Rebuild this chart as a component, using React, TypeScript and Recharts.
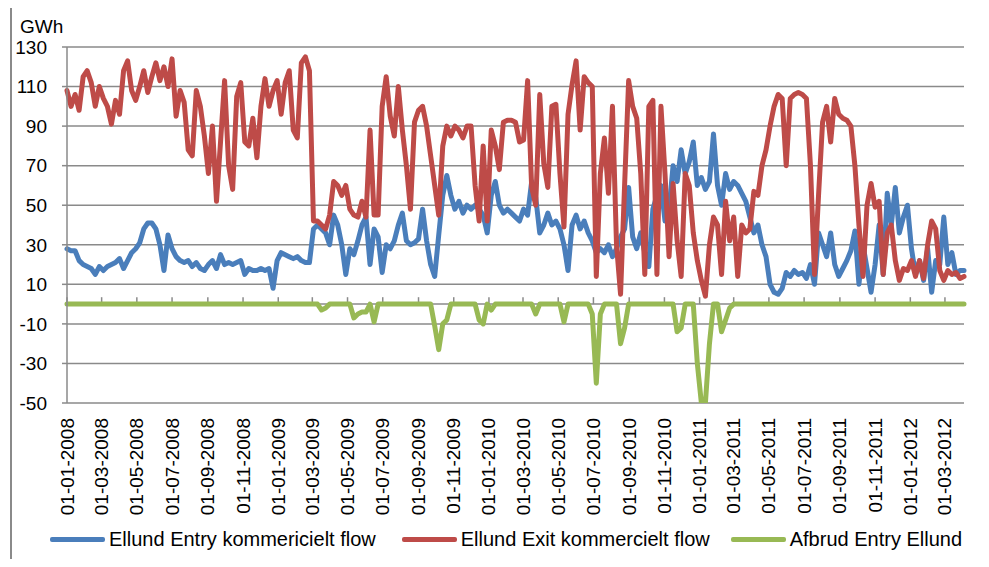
import { CartesianGrid, Legend, Line, LineChart, ReferenceLine, XAxis, YAxis } from "recharts";

// x-axis labels, one every second month
const tickLabels = [
	"01-01-2008", "01-03-2008", "01-05-2008", "01-07-2008", "01-09-2008", "01-11-2008",
	"01-01-2009", "01-03-2009", "01-05-2009", "01-07-2009", "01-09-2009", "01-11-2009",
	"01-01-2010", "01-03-2010", "01-05-2010", "01-07-2010", "01-09-2010", "01-11-2010",
	"01-01-2011", "01-03-2011", "01-05-2011", "01-07-2011", "01-09-2011", "01-11-2011",
	"01-01-2012", "01-03-2012",
];

const yTicks = [-50, -30, -10, 10, 30, 50, 70, 90, 110, 130];

// weekly readings, first week starts 01-01-2008
const firstDay = "2008-01-01";
const stepDays = 7;

const entryFlow = [
	28, 27, 27, 22, 20, 19, 18, 15, 19, 17,
	19, 20, 21, 23, 18, 22, 26, 28, 31, 38,
	41, 41, 38, 30, 17, 35, 28, 24, 22, 21,
	22, 19, 21, 18, 17, 20, 22, 18, 25, 20,
	21, 20, 21, 22, 15, 18, 17, 17, 18, 17,
	18, 8, 22, 26, 25, 24, 23, 24, 22, 21,
	21, 38, 40, 38, 36, 30, 45, 40, 30, 15,
	28, 25, 32, 40, 44, 20, 38, 34, 16, 30,
	28, 32, 40, 46, 32, 30, 31, 33, 48, 32,
	20, 14, 35, 55, 65, 55, 48, 52, 46, 50,
	48, 50, 48, 45, 36, 55, 62, 50, 46, 48,
	46, 44, 42, 48, 45, 62, 54, 36, 40, 46,
	40, 42, 38, 30, 17, 40, 45, 38, 42, 36,
	32, 26, 28, 26, 30, 24, 28, 34, 38, 59,
	34, 28, 36, 26, 19, 48, 55, 60, 42, 48,
	70, 62, 78, 66, 72, 82, 60, 64, 58, 62,
	86, 60, 50, 66, 58, 62, 60, 56, 52, 44,
	36, 40, 30, 24, 10, 6, 5, 8, 16, 14,
	17, 15, 16, 13, 20, 10, 36, 30, 24, 36,
	20, 14, 18, 22, 27, 37, 10, 30, 18, 6,
	20, 40, 15, 56, 40, 59, 36, 44, 50, 28,
	15, 22, 12, 28, 6, 22, 20, 44, 20, 26,
	15, 17, 17,
];

const exitFlow = [
	108, 100, 106, 98, 115, 118, 112, 100, 110, 104,
	100, 91, 103, 96, 118, 123, 108, 103, 110, 118,
	107, 115, 122, 113, 120, 110, 124, 95, 108, 102,
	78, 75, 108, 100, 85, 66, 90, 52, 82, 113,
	70, 58, 105, 112, 82, 80, 94, 74, 100, 114,
	100, 108, 113, 96, 112, 118, 88, 84, 122, 125,
	118, 42, 42, 40, 38, 45, 62, 60, 55, 60,
	48, 45, 44, 52, 44, 88, 45, 45, 100, 115,
	95, 85, 110, 88, 70, 48, 92, 98, 100, 90,
	75, 60, 45, 80, 90, 85, 90, 88, 84, 90,
	90, 60, 42, 80, 42, 88, 80, 68, 92, 93,
	93, 92, 82, 83, 113, 59, 50, 106, 71, 59,
	100, 101, 66, 39, 96, 111, 123, 88, 115, 112,
	110, 14, 66, 84, 56, 100, 30, 5, 60, 113,
	100, 94, 66, 15, 100, 103, 15, 100, 66, 24,
	61, 32, 14, 66, 60, 36, 22, 12, 4, 30,
	44, 40, 15, 52, 32, 44, 14, 40, 36, 38,
	57, 55, 70, 78, 90, 100, 106, 104, 70, 104,
	106, 107, 106, 104, 70, 15, 55, 92, 100, 82,
	104, 96, 94, 93, 90, 70, 40, 14, 50, 61,
	49, 52, 15, 36, 40, 22, 12, 18, 17, 22,
	14, 22, 13, 30, 42, 38, 17, 12, 17, 15,
	16, 13, 14,
];

const afbrudEntry = [
	0, 0, 0, 0, 0, 0, 0, 0, 0, 0,
	0, 0, 0, 0, 0, 0, 0, 0, 0, 0,
	0, 0, 0, 0, 0, 0, 0, 0, 0, 0,
	0, 0, 0, 0, 0, 0, 0, 0, 0, 0,
	0, 0, 0, 0, 0, 0, 0, 0, 0, 0,
	0, 0, 0, 0, 0, 0, 0, 0, 0, 0,
	0, 0, 0, -3, -2, 0, 0, 0, 0, 0,
	0, -7, -5, -4, -4, 0, -9, 0, 0, 0,
	0, 0, 0, 0, 0, 0, 0, 0, 0, 0,
	0, -11, -23, -10, -8, 0, 0, 0, 0, 0,
	0, 0, -8, -10, 0, -3, 0, 0, 0, 0,
	0, 0, 0, 0, 0, 0, -5, 0, 0, 0,
	0, 0, 0, -9, 0, 0, 0, 0, 0, 0,
	-5, -40, -5, 0, 0, 0, 0, -20, -12, 0,
	0, 0, 0, 0, 0, 0, 0, 0, 0, 0,
	0, -14, -12, 0, 0, 0, -30, -50, -50, -20,
	0, 0, -14, -8, -2, 0, 0, 0, 0, 0,
	0, 0, 0, 0, 0, 0, 0, 0, 0, 0,
	0, 0, 0, 0, 0, 0, 0, 0, 0, 0,
	0, 0, 0, 0, 0, 0, 0, 0, 0, 0,
	0, 0, 0, 0, 0, 0, 0, 0, 0, 0,
	0, 0, 0, 0, 0, 0, 0, 0, 0, 0,
	0, 0, 0,
];

const BLUE = "#4a7ebb";
const RED = "#be4b48";
const GREEN = "#98b954";
const GRID = "#8a8a8a";
const FONT = "'Liberation Sans', Arial, sans-serif";

const DAY = 86400000;
const startTime = Date.parse(firstDay);

const toTime = (label: string) => {
	const [d, m, y] = label.split("-").map(Number);
	return Date.UTC(y, m - 1, d);
};
const tickTimes = tickLabels.map(toTime);
const labelByTime = new Map(tickTimes.map((t, i) => [t, tickLabels[i]]));

const data = entryFlow.map((v, i) => ({
	t: startTime + i * stepDays * DAY,
	entry: v,
	exit: exitFlow[i],
	afbrud: afbrudEntry[i],
}));

const series = [
	{ key: "entry", name: "Ellund Entry kommericielt flow", color: BLUE, gap: 0 },
	{ key: "exit", name: "Ellund Exit kommercielt flow", color: RED, gap: 26 },
	{ key: "afbrud", name: "Afbrud Entry Ellund", color: GREEN, gap: 21 },
];

function DateTick({ x, y, payload }: any) {
	return (
		<text
			transform={`translate(${x},${y}) rotate(-90)`}
			textAnchor="end"
			dominantBaseline="central"
			fill="#000"
			fontSize={19}
			fontFamily={FONT}
		>
			{labelByTime.get(payload.value)}
		</text>
	);
}

function ChartLegend() {
	return (
		<div style={{ display: "flex", alignItems: "center", paddingLeft: 50, fontSize: 20, fontFamily: FONT, color: "#000" }}>
			{series.map((s) => (
				<div key={s.key} style={{ display: "flex", alignItems: "center", marginLeft: s.gap }}>
					<span style={{ display: "inline-block", width: 55, height: 5, borderRadius: 2, background: s.color, marginRight: 4 }} />
					<span>{s.name}</span>
				</div>
			))}
		</div>
	);
}

export default function App() {
	return (
		<div style={{ position: "relative", margin: -8, width: 989, height: 567, overflow: "hidden", background: "#fff", fontFamily: FONT }}>
			<div style={{ position: "absolute", left: 10, top: 6, width: 1000, height: 600, border: `2px solid ${GRID}`, boxSizing: "border-box" }} />
			<div style={{ position: "absolute", left: 20, top: 16, fontSize: 19, color: "#000" }}>GWh</div>
			<LineChart width={989} height={567} data={data} margin={{ top: 47, right: 25, bottom: 44, left: 7 }}>
				<CartesianGrid vertical={false} stroke={GRID} strokeWidth={1.5} />
				<XAxis
					dataKey="t"
					type="number"
					domain={["dataMin", "dataMax"]}
					ticks={tickTimes}
					interval={0}
					tick={<DateTick />}
					tickLine={false}
					axisLine={false}
					tickSize={0}
					tickMargin={15}
					height={120}
				/>
				<YAxis
					domain={[-50, 130]}
					ticks={yTicks}
					interval={0}
					width={60}
					allowDataOverflow
					stroke={GRID}
					strokeWidth={1.5}
					tickSize={5}
					tickMargin={15}
					tick={{ fill: "#000", fontSize: 19, fontFamily: FONT }}
				/>
				<ReferenceLine y={0} stroke={GRID} strokeWidth={1.5} />
				{tickTimes.map((t) => (
					<ReferenceLine
						key={t}
						segment={[
							{ x: t, y: 0 },
							{ x: t, y: 3.5 },
						]}
						stroke={GRID}
						strokeWidth={1.5}
					/>
				))}
				{series.map((s) => (
					<Line
						key={s.key}
						dataKey={s.key}
						name={s.name}
						stroke={s.color}
						strokeWidth={5}
						strokeLinejoin="round"
						strokeLinecap="round"
						dot={false}
						type="linear"
						isAnimationActive={false}
					/>
				))}
				<Legend
					layout="horizontal"
					verticalAlign="middle"
					content={<ChartLegend />}
					wrapperStyle={{ left: 0, top: 528, width: 989 }}
				/>
			</LineChart>
		</div>
	);
}
